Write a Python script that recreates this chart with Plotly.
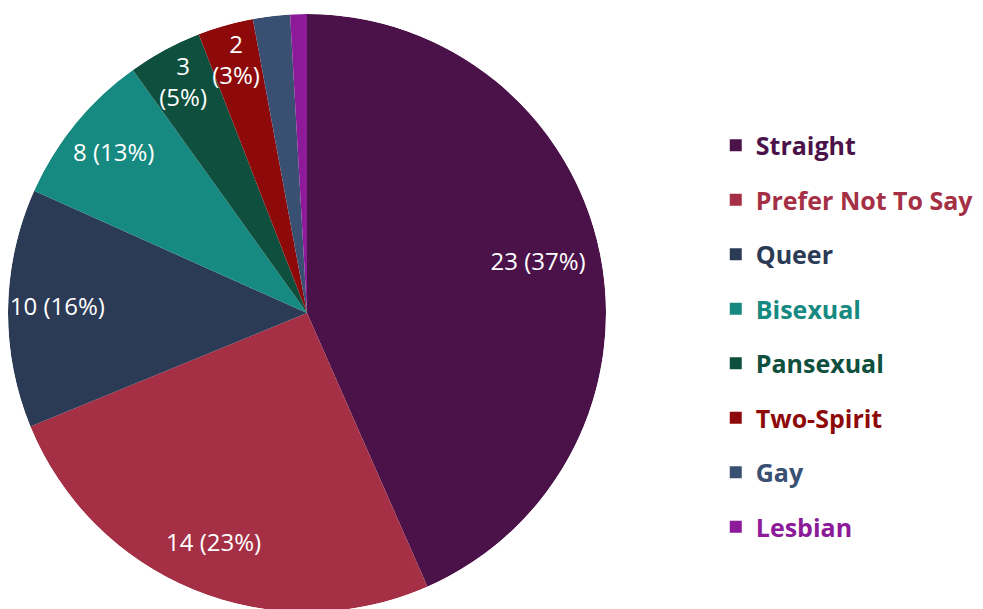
import plotly.graph_objects as go

categories = ["Straight", "Prefer Not To Say", "Queer", "Bisexual",
              "Pansexual", "Two-Spirit", "Gay", "Lesbian"]
# slice sizes as drawn (share of circle, %)
slice_share = [43.4, 25.4, 12.9, 8.4, 4.0, 3.0, 2.0, 0.9]
# printed labels
counts = [23, 14, 10, 8, 3, 2, None, None]
percents = [37, 23, 16, 13, 5, 3, None, None]
colors = ["#4b1249", "#a52f45", "#2b3a55", "#168a80",
          "#0f4f3d", "#8e0a0a", "#3a5073", "#8d1a98"]

total = sum(slice_share)
starts, widths = [], []
acc = 0.0
for s in slice_share:
    w = s / total * 360.0
    starts.append(acc)
    widths.append(w)
    acc += w
mids = [a + w / 2 for a, w in zip(starts, widths)]

fig = go.Figure()
for i, cat in enumerate(categories):
    fig.add_trace(go.Barpolar(
        r=[1], theta=[mids[i]], width=[widths[i]], base=[0],
        marker=dict(color=colors[i], line=dict(width=0)),
        name=f"<b><span style='color:{colors[i]}'>{cat}</span></b>",
        legendgroup=cat,
        hoverinfo="skip",
    ))

# slice labels
lab_theta, lab_r, lab_text = [], [], []
for s, m, c, p in zip(slice_share, mids, counts, percents):
    if c is None:
        continue
    if p <= 5:
        lab_text.append(f"{c}<br>({p}%)")
        lab_r.append(0.87)
    else:
        lab_text.append(f"{c} ({p}%)")
        lab_r.append(0.79 if s > 40 else 0.835)
    lab_theta.append(m)

fig.add_trace(go.Scatterpolar(
    r=lab_r, theta=lab_theta, text=lab_text, mode="text",
    textfont=dict(family="Open Sans, sans-serif", size=24, color="white"),
    showlegend=False, hoverinfo="skip",
))

fig.update_layout(
    width=983, height=609,
    margin=dict(l=0, r=0, t=6, b=5),
    paper_bgcolor="white",
    polar=dict(
        domain=dict(x=[0, 598 / 983], y=[0, 1]),
        bgcolor="white",
        bargap=0,
        hole=0,
        radialaxis=dict(range=[0, 1], visible=False, showgrid=False),
        angularaxis=dict(rotation=90, direction="clockwise", visible=False,
                         showgrid=False, showline=False, ticks=""),
    ),
    legend=dict(
        x=0.720, y=0.4615, xanchor="left", yanchor="middle",
        font=dict(family="Open Sans, sans-serif", size=25),
        traceorder="grouped",
        tracegroupgap=19,
    ),
)

fig.write_html("out.html")
